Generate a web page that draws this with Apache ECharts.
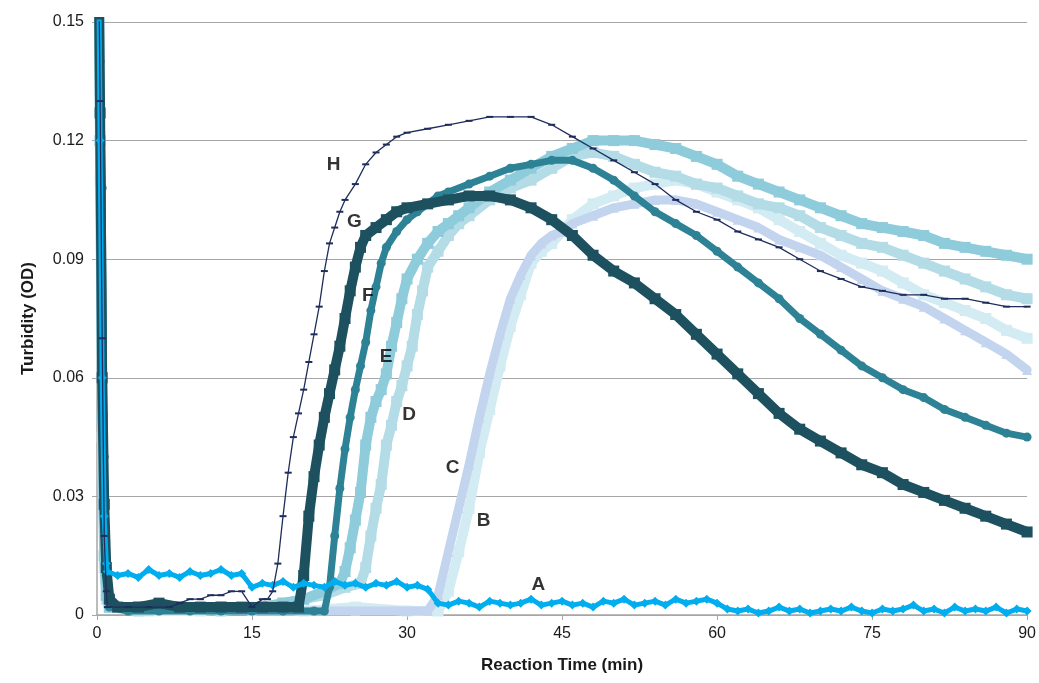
<!DOCTYPE html>
<html><head><meta charset="utf-8">
<script src="https://cdn.jsdelivr.net/npm/echarts@6/dist/echarts.min.js"></script>
<style>html,body{margin:0;padding:0;background:#fff}#c{width:1039px;height:683px}</style>
</head><body><div id="c"></div>
<script>
// ---- data: [time (min), turbidity (OD)] ----
const seriesA = [[0.15,0.17],[0.3,0.12],[0.5,0.06],[0.7,0.025],[0.9,0.013],
 [1,0.011],[2,0.010],[3,0.0105],[4,0.0095],[5,0.0115],[6,0.010],[7,0.0105],[8,0.0095],[9,0.011],[10,0.010],[11,0.0105],[12,0.0115],[13,0.010],[14,0.0105],
 [15,0.0070],[16,0.0080],[17,0.0075],[18,0.0085],[19,0.0070],[20,0.0080],[21,0.0075],[22,0.0070],[23,0.0085],[24,0.0075],[25,0.0080],[26,0.0070],[27,0.0080],[28,0.0075],[29,0.0085],[30,0.0070],[31,0.0075],[32,0.0065],
 [33,0.0030],[34,0.0025],[35,0.0035],[36,0.0030],[37,0.0020],[38,0.0035],[39,0.0030],[40,0.0025],[41,0.0030],[42,0.0040],[43,0.0025],[44,0.0030],[45,0.0035],[46,0.0025],[47,0.0030],[48,0.0020],[49,0.0035],[50,0.0030],[51,0.0040],[52,0.0025],[53,0.0030],[54,0.0035],[55,0.0025],[56,0.0040],[57,0.0030],[58,0.0035],[59,0.0040],[60,0.0030],
 [61,0.0015],[62,0.0010],[63,0.0015],[64,0.0005],[65,0.0010],[66,0.0020],[67,0.0010],[68,0.0015],[69,0.0005],[70,0.0010],[71,0.0015],[72,0.0010],[73,0.0020],[74,0.0010],[75,0.0005],[76,0.0015],[77,0.0010],[78,0.0015],[79,0.0025],[80,0.0010],[81,0.0015],[82,0.0005],[83,0.0020],[84,0.0010],[85,0.0015],[86,0.0010],[87,0.0020],[88,0.0005],[89,0.0015],[90,0.0010]];

const seriesB = [[0.15,0.16],[0.3,0.11],[0.5,0.045],[0.7,0.012],[0.9,0.004],[1.2,0.002],[5,0.001],[10,0.001],[15,0.002],[20,0.001],[25,0.002],[30,0.001],[33,0.001],
 [34,0.006],[35,0.016],[36,0.027],[37,0.041],[38,0.052],[39,0.063],[40,0.073],[41,0.081],[42,0.089],[43,0.092],[44,0.094],[45,0.097],[46,0.100],[48,0.104],[50,0.106],[52,0.108],[54,0.109],[56,0.110],[58,0.109],[60,0.107],[62,0.105],[64,0.103],[66,0.100],[68,0.097],[70,0.094],[72,0.091],[74,0.089],[76,0.087],[78,0.084],[80,0.081],[82,0.079],[84,0.077],[86,0.075],[88,0.072],[90,0.070]];

const seriesC = [[0.15,0.16],[0.3,0.11],[0.5,0.045],[0.7,0.012],[0.9,0.004],[1.2,0.002],[5,0.001],[10,0.002],[15,0.001],[20,0.001],[25,0.001],[30,0.001],[32,0.001],
 [33,0.005],[34,0.016],[35,0.027],[36,0.038],[37,0.050],[38,0.061],[39,0.071],[40,0.080],[41,0.086],[42,0.091],[43,0.094],[44,0.096],[45,0.097],[46,0.099],[48,0.101],[50,0.103],[52,0.104],[54,0.105],[56,0.105],[58,0.104],[60,0.102],[62,0.100],[64,0.098],[66,0.095],[68,0.093],[70,0.091],[72,0.088],[74,0.085],[76,0.082],[78,0.080],[80,0.078],[82,0.075],[84,0.072],[86,0.069],[88,0.066],[90,0.062]];

const seriesD = [[0.15,0.17],[0.3,0.12],[0.5,0.05],[0.7,0.015],[0.9,0.005],[1.2,0.002],[4,0.001],[8,0.002],[12,0.001],[16,0.002],[18,0.003],[20,0.004],[22,0.005],[24,0.007],[25.5,0.008],
 [26,0.012],[26.5,0.020],[27,0.027],[27.5,0.033],[28,0.043],[28.5,0.048],[29,0.054],[29.5,0.058],[30,0.063],[30.5,0.068],[31,0.076],[31.5,0.082],[32,0.088],[33,0.092],[34,0.096],[35,0.099],[36,0.101],[38,0.105],[40,0.108],[42,0.110],[44,0.113],[46,0.116],[48,0.117],[50,0.116],[52,0.114],[54,0.112],[56,0.111],[58,0.109],[60,0.108],[62,0.106],[64,0.104],[66,0.103],[68,0.101],[70,0.098],[72,0.096],[74,0.094],[76,0.093],[78,0.091],[80,0.089],[82,0.087],[84,0.085],[86,0.083],[88,0.081],[90,0.080]];

const seriesE = [[0.15,0.17],[0.3,0.12],[0.5,0.05],[0.7,0.015],[0.9,0.005],[1.2,0.002],[4,0.002],[8,0.002],[12,0.002],[16,0.002],[18,0.003],[20,0.004],[22,0.006],[23.5,0.008],
 [24,0.011],[24.5,0.017],[25,0.024],[25.5,0.031],[26,0.043],[26.5,0.050],[27,0.054],[27.5,0.057],[28,0.061],[28.5,0.068],[29,0.074],[29.5,0.080],[30,0.085],[31,0.090],[32,0.094],[33,0.097],[34,0.099],[35,0.101],[36,0.103],[38,0.107],[40,0.110],[42,0.113],[44,0.116],[46,0.118],[48,0.120],[50,0.120],[52,0.120],[54,0.119],[56,0.118],[58,0.116],[60,0.114],[62,0.111],[64,0.109],[66,0.107],[68,0.105],[70,0.103],[72,0.101],[74,0.099],[76,0.098],[78,0.097],[80,0.096],[82,0.094],[84,0.093],[86,0.092],[88,0.091],[90,0.090]];

const seriesF = [[0.15,0.17],[0.3,0.14],[0.5,0.108],[0.7,0.04],[0.9,0.01],[1.2,0.002],[3,0.001],[6,0.001],[9,0.001],[12,0.001],[15,0.001],[18,0.001],[21,0.001],[22,0.001],
 [22.5,0.007],[23,0.020],[23.5,0.032],[24,0.042],[24.5,0.050],[25,0.057],[25.5,0.063],[26,0.069],[26.5,0.077],[27,0.083],[27.5,0.089],[28,0.093],[29,0.097],[30,0.100],[31,0.102],[32,0.104],[33,0.106],[34,0.107],[36,0.109],[38,0.111],[40,0.113],[42,0.114],[44,0.115],[46,0.115],[48,0.113],[50,0.110],[52,0.106],[54,0.102],[56,0.099],[58,0.096],[60,0.092],[62,0.088],[64,0.084],[66,0.080],[68,0.075],[70,0.071],[72,0.067],[74,0.063],[76,0.060],[78,0.057],[80,0.055],[82,0.052],[84,0.050],[86,0.048],[88,0.046],[90,0.045]];

const seriesG = [[0.15,0.17],[0.3,0.127],[0.5,0.06],[0.7,0.028],[0.9,0.012],[1.2,0.004],[2,0.002],[4,0.002],[6,0.003],[8,0.002],[10,0.002],[12,0.002],[14,0.002],[16,0.002],[18,0.002],[19.5,0.002],
 [20,0.010],[20.5,0.025],[21,0.035],[21.5,0.043],[22,0.050],[22.5,0.056],[23,0.062],[23.5,0.068],[24,0.075],[24.5,0.082],[25,0.088],[25.5,0.093],[26,0.096],[27,0.098],[28,0.100],[29,0.102],[30,0.103],[32,0.104],[34,0.105],[36,0.106],[38,0.106],[40,0.105],[42,0.103],[44,0.100],[46,0.096],[48,0.091],[50,0.087],[52,0.084],[54,0.080],[56,0.076],[58,0.071],[60,0.066],[62,0.061],[64,0.056],[66,0.051],[68,0.047],[70,0.044],[72,0.041],[74,0.038],[76,0.036],[78,0.033],[80,0.031],[82,0.029],[84,0.027],[86,0.025],[88,0.023],[90,0.021]];

const seriesH = [[0.15,0.17],[0.3,0.13],[0.5,0.07],[0.7,0.02],[0.9,0.006],[1,0.002],[3,0.002],[5,0.002],[7,0.002],[8,0.003],[9,0.004],[10,0.004],[11,0.005],[12,0.005],[13,0.006],[14,0.006],[15,0.002],[16,0.004],
 [16.5,0.004],[17,0.006],[17.5,0.013],[18,0.025],[18.5,0.036],[19,0.045],[19.5,0.051],[20,0.057],[20.5,0.064],[21,0.071],[21.5,0.078],[22,0.087],[22.5,0.094],[23,0.098],[23.5,0.102],[24,0.105],[25,0.109],[26,0.114],[27,0.117],[28,0.119],[29,0.121],[30,0.122],
 [32,0.123],[34,0.124],[36,0.125],[38,0.126],[40,0.126],[42,0.126],[44,0.124],[46,0.121],[48,0.118],[50,0.115],[52,0.112],[54,0.109],[56,0.105],[58,0.102],[60,0.100],[62,0.097],[64,0.095],[66,0.093],[68,0.090],[70,0.087],[72,0.085],[74,0.083],[76,0.082],[78,0.081],[80,0.081],[82,0.080],[84,0.080],[86,0.079],[88,0.078],[90,0.078]];

const curveLabels = [['A',42.7,0.0076],['B',37.4,0.0238],['C',34.4,0.0372],['D',30.2,0.0506],['E',27.97,0.0653],['F',26.2,0.0807],['G',24.9,0.0995],['H',22.9,0.1138]];
const xTicks = [0,15,30,45,60,75,90];
const yTicks = [0,0.03,0.06,0.09,0.12,0.15];

const FONT = '"Liberation Sans", Arial, sans-serif';
const chart = echarts.init(document.getElementById('c'), null, {renderer:'canvas'});

function band(name, data, color, symbol, symSize, lineW, z){
  return {name, type:'line', data, z, symbol, symbolSize:symSize, showSymbol:true,
    lineStyle:{color, width:lineW, join:'round', cap:'round'}, itemStyle:{color}, clip:true, animation:false, smooth:false};
}

chart.setOption({
  animation:false,
  grid:{left:97, right:8, top:22, bottom:68},
  xAxis:{type:'value', min:xTicks[0], max:xTicks[xTicks.length-1], interval:15,
    name:'Reaction Time (min)', nameLocation:'middle', nameGap:42,
    nameTextStyle:{fontFamily:FONT, fontSize:17, fontWeight:'bold', color:'#1a1a1a'},
    axisLine:{show:true, lineStyle:{color:'#a6a6a6', width:1.5}},
    axisTick:{show:true, length:5, lineStyle:{color:'#a6a6a6'}},
    axisLabel:{fontFamily:FONT, fontSize:16, color:'#1a1a1a', margin:11},
    splitLine:{show:false}},
  yAxis:{type:'value', min:yTicks[0], max:yTicks[yTicks.length-1], interval:0.03,
    name:'Turbidity (OD)', nameLocation:'middle', nameGap:60, nameRotate:90,
    nameTextStyle:{fontFamily:FONT, fontSize:17, fontWeight:'bold', color:'#1a1a1a'},
    axisLine:{show:true, lineStyle:{color:'#a6a6a6', width:1.5}},
    axisTick:{show:true, length:5, lineStyle:{color:'#a6a6a6'}},
    axisLabel:{fontFamily:FONT, fontSize:16, color:'#1a1a1a', margin:13,
      formatter:v=> v===0 ? '0' : v.toFixed(2)},
    splitLine:{show:true, lineStyle:{color:'#a6a6a6', width:1.2}}},
  series:[
    band('B', seriesB, '#d3ebf2', 'rect', 11, 10, 2),
    band('C', seriesC, '#c3d4ef', 'triangle', 10, 9, 3),
    band('D', seriesD, '#b3dce7', 'rect', 11, 10, 4),
    band('E', seriesE, '#8ecbdb', 'rect', 11, 10, 5),
    band('F', seriesF, '#2e8296', 'circle', 9, 7, 6),
    band('G', seriesG, '#1d5160', 'rect', 11, 10, 7),
    band('A', seriesA, '#00aeef', 'diamond', 9, 5, 8),
    {name:'H', type:'line', data:seriesH, z:9, symbol:'rect', symbolSize:[7,2], showSymbol:true,
      lineStyle:{color:'#1f2d5c', width:1.3}, itemStyle:{color:'#1f2d5c'}, clip:true, animation:false},
    {name:'labels', type:'scatter', z:10, symbol:'circle', symbolSize:1,
      itemStyle:{color:'rgba(0,0,0,0)'},
      data:curveLabels.map(d=>({name:d[0], value:[d[1],d[2]]})),
      label:{show:true, position:'inside', formatter:p=>p.name,
        fontFamily:FONT, fontSize:19, fontWeight:'bold', color:'#000'},
      animation:false, silent:true}
  ]
});
</script></body></html>
